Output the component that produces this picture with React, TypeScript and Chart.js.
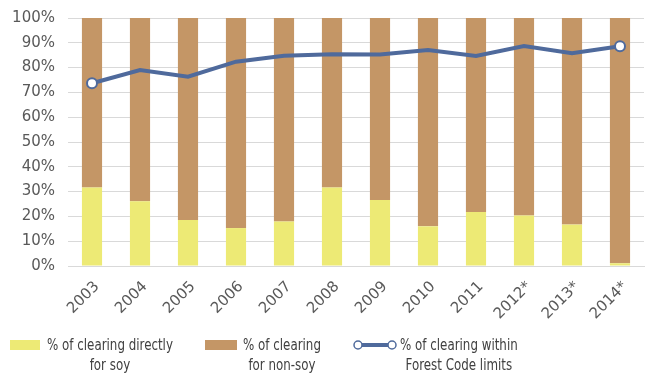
import React, { useEffect, useRef } from "react";
import { Chart, registerables } from "chart.js";

Chart.register(...registerables);

const years = ["2003", "2004", "2005", "2006", "2007", "2008", "2009", "2010", "2011", "2012*", "2013*", "2014*"];
const soyShare = [31.7, 26.1, 18.5, 15.3, 17.9, 31.7, 26.6, 16.0, 21.8, 20.4, 16.7, 1.1];
const nonSoyShare = [68.3, 73.9, 81.5, 84.7, 82.1, 68.3, 73.4, 84.0, 78.2, 79.6, 83.3, 98.9];
const forestCodeShare = [73.7, 79.0, 76.3, 82.4, 84.8, 85.4, 85.3, 87.1, 84.7, 88.7, 85.8, 88.6];
const yTicks = [0, 10, 20, 30, 40, 50, 60, 70, 80, 90, 100];

const SOY = "#EDEA75";
const NONSOY = "#C49666";
const LINE = "#4F6A9C";
const AXIS_FONT = "'DejaVu Sans', sans-serif";
const LEGEND_FONT = "'DejaVu Sans Condensed', 'DejaVu Sans', sans-serif";

export default function App() {
  const ref = useRef<HTMLCanvasElement | null>(null);

  useEffect(() => {
    if (!ref.current) return;
    const n = forestCodeShare.length;
    const chart = new Chart(ref.current, {
      type: "bar",
      data: {
        labels: years,
        datasets: [
          {
            type: "line",
            label: "% of clearing within Forest Code limits",
            data: forestCodeShare,
            borderColor: LINE,
            borderWidth: 4,
            backgroundColor: "#ffffff",
            pointBackgroundColor: "#ffffff",
            pointBorderColor: LINE,
            pointBorderWidth: 2,
            pointRadius: forestCodeShare.map((_, i) => (i === 0 || i === n - 1 ? 5 : 0)),
            tension: 0,
            stack: "line",
            order: 0,
          } as any,
          {
            label: "% of clearing directly for soy",
            data: soyShare,
            backgroundColor: SOY,
            stack: "bars",
            barPercentage: 0.42,
            categoryPercentage: 1,
            order: 1,
          },
          {
            label: "% of clearing for non-soy",
            data: nonSoyShare,
            backgroundColor: NONSOY,
            stack: "bars",
            barPercentage: 0.42,
            categoryPercentage: 1,
            order: 1,
          },
        ],
      },
      options: {
        responsive: false,
        animation: false,
        devicePixelRatio: 1,
        layout: { padding: { left: 0, right: 8, top: 18, bottom: 0 } },
        plugins: {
          legend: { display: false },
          tooltip: { enabled: false },
        },
        scales: {
          x: {
            stacked: true,
            grid: { display: false },
            border: { display: true, color: "#d9d9d9", width: 1 },
            ticks: {
              color: "#595959",
              font: { family: AXIS_FONT, size: 15 },
              maxRotation: 45,
              minRotation: 45,
              padding: 4,
              labelOffset: 5,
            },
            afterFit: (axis: any) => {
              axis.height = 110;
              axis.paddingLeft = 0;
              axis.paddingRight = 0;
            },
          },
          y: {
            stacked: true,
            min: 0,
            max: 100,
            afterBuildTicks: (axis: any) => {
              axis.ticks = yTicks.map((v) => ({ value: v }));
            },
            grid: { color: "#d9d9d9", lineWidth: 1, drawTicks: false },
            border: { display: false },
            ticks: {
              color: "#595959",
              font: { family: AXIS_FONT, size: 15 },
              padding: 13,
              callback: (v: any) => v + "%",
            },
            afterFit: (axis: any) => {
              axis.width = 68;
              axis.paddingTop = 0;
              axis.paddingBottom = 0;
            },
          },
        },
      },
    });
    return () => chart.destroy();
  }, []);

  const textStyle: React.CSSProperties = {
    position: "absolute",
    fontFamily: LEGEND_FONT,
    fontSize: 15,
    lineHeight: "20px",
    color: "#404040",
    textAlign: "center",
    whiteSpace: "nowrap",
    transform: "scaleX(0.88)",
    transformOrigin: "left top",
  };

  return (
    <div style={{ position: "absolute", left: 0, top: 0, width: 652, height: 376, background: "#fff", overflow: "hidden" }}>
      <canvas ref={ref} width={652} height={376} style={{ width: 652, height: 376, display: "block" }} />
      <div style={{ position: "absolute", left: 10, top: 340, width: 30, height: 10, background: SOY }} />
      <div style={{ ...textStyle, left: 47, top: 335 }}>
        % of clearing directly
        <br />
        for soy
      </div>
      <div style={{ position: "absolute", left: 205, top: 340, width: 32, height: 10, background: NONSOY }} />
      <div style={{ ...textStyle, left: 243, top: 335 }}>
        % of clearing
        <br />
        for non-soy
      </div>
      <svg style={{ position: "absolute", left: 352, top: 337 }} width={46} height={16}>
        <line x1={6} y1={8} x2={40} y2={8} stroke={LINE} strokeWidth={4} />
        <circle cx={6} cy={8} r={4} fill="#fff" stroke={LINE} strokeWidth={1.5} />
        <circle cx={40} cy={8} r={4} fill="#fff" stroke={LINE} strokeWidth={1.5} />
      </svg>
      <div style={{ ...textStyle, left: 400, top: 335 }}>
        % of clearing within
        <br />
        Forest Code limits
      </div>
    </div>
  );
}
